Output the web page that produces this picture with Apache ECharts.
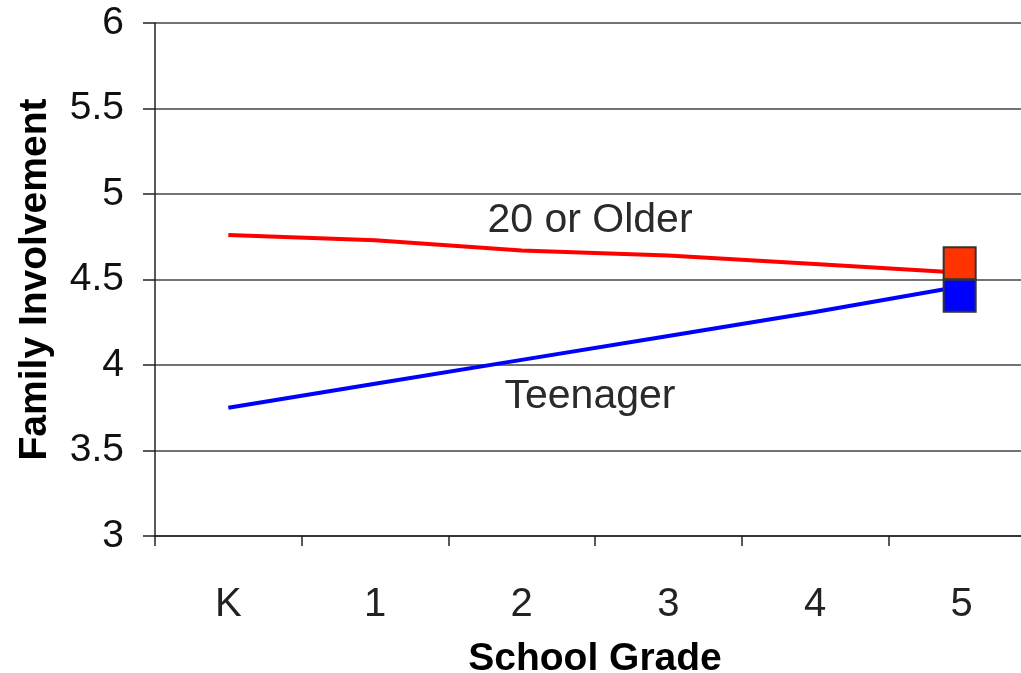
<!DOCTYPE html>
<html>
<head>
<meta charset="utf-8">
<script src="https://cdn.jsdelivr.net/npm/echarts@6/dist/echarts.min.js"></script>
<style>
  html, body { margin: 0; padding: 0; background: #fff; }
  #chart { width: 1021px; height: 673px; }
</style>
</head>
<body>
<div id="chart"></div>
<script>
const grades = ["K", "1", "2", "3", "4", "5"];
const olderValues = [4.76, 4.73, 4.67, 4.64, 4.59, 4.54];
const teenValues = [3.75, 3.89, 4.03, 4.17, 4.31, 4.46];
// the two little boxes drawn at grade 5
const boxValues = [4.595, 4.405];
const boxColors = ["#ff3300", "#0000ff"];
const yTicks = { min: 3, max: 6, step: 0.5 };

const chart = echarts.init(document.getElementById("chart"));

const font = "Liberation Sans, Arial, sans-serif";

const option = {
  animation: false,
  grid: {
    left: 155,
    top: 23,
    width: 880,
    height: 513,
    containLabel: false,
    outerBoundsMode: "none",
  },
  xAxis: {
    type: "category",
    data: grades,
    boundaryGap: true,
    name: "School Grade",
    nameLocation: "middle",
    nameGap: 104,
    nameTextStyle: {
      fontFamily: font,
      fontWeight: "bold",
      fontSize: 39,
      color: "#000",
    },
    axisLine: { lineStyle: { color: "#222", width: 1.5 } },
    axisTick: {
      show: true,
      alignWithLabel: false,
      length: 10,
      lineStyle: { color: "#222", width: 1.5 },
    },
    axisLabel: {
      margin: 49,
      fontFamily: font,
      fontSize: 40,
      color: "#222",
    },
    splitLine: { show: false },
  },
  yAxis: {
    type: "value",
    min: yTicks.min,
    max: yTicks.max,
    interval: yTicks.step,
    name: "Family Involvement",
    nameLocation: "middle",
    nameGap: 100,
    nameTextStyle: {
      fontFamily: font,
      fontWeight: "bold",
      fontSize: 39,
      color: "#000",
    },
    axisLine: { show: true, lineStyle: { color: "#222", width: 1.5 } },
    axisTick: {
      show: true,
      inside: false,
      length: 12,
      lineStyle: { color: "#222", width: 1.5 },
    },
    axisLabel: {
      margin: 31,
      fontFamily: font,
      fontSize: 39,
      color: "#111",
    },
    splitLine: { show: true, lineStyle: { color: "#444", width: 1.5 } },
  },
  series: [
    {
      name: "20 or Older",
      type: "line",
      data: olderValues,
      symbol: "none",
      lineStyle: { color: "#ff0000", width: 4 },
      z: 3,
    },
    {
      name: "Teenager",
      type: "line",
      data: teenValues,
      symbol: "none",
      lineStyle: { color: "#0000ff", width: 4 },
      z: 3,
    },
    {
      type: "scatter",
      symbol: "rect",
      symbolSize: [32, 32],
      symbolOffset: [-2, 0],
      z: 5,
      data: boxValues.map((v, i) => ({
        value: [grades[grades.length - 1], v],
        itemStyle: {
          color: boxColors[i],
          opacity: 1,
          borderColor: "#333",
          borderWidth: 2,
        },
      })),
    },
  ],
  graphic: [
    {
      type: "text",
      x: 590,
      y: 221,
      style: {
        text: "20 or Older",
        fontFamily: font,
        fontSize: 41,
        fill: "#2a2a2a",
        align: "center",
        verticalAlign: "middle",
      },
    },
    {
      type: "text",
      x: 590,
      y: 397,
      style: {
        text: "Teenager",
        fontFamily: font,
        fontSize: 41,
        fill: "#2a2a2a",
        align: "center",
        verticalAlign: "middle",
      },
    },
  ],
};

chart.setOption(option);
</script>
</body>
</html>
